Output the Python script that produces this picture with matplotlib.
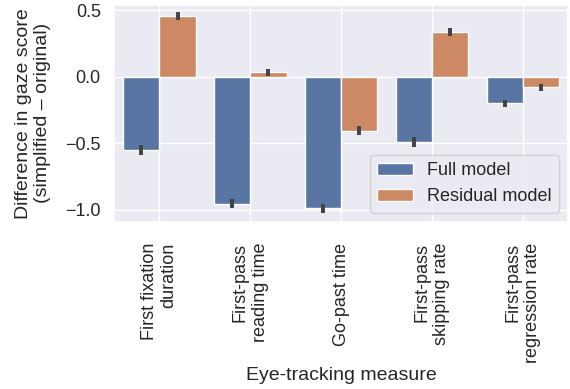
import matplotlib
matplotlib.use("Agg")
import matplotlib.pyplot as plt
import seaborn as sns
import numpy as np

measures = ["First fixation\nduration", "First-pass\nreading time", "Go-past time",
            "First-pass\nskipping rate", "First-pass\nregression rate"]
full_model = [-0.55, -0.955, -0.99, -0.49, -0.20]
full_err = [0.035, 0.035, 0.035, 0.035, 0.025]
residual_model = [0.46, 0.033, -0.405, 0.34, -0.078]
residual_err = [0.03, 0.025, 0.035, 0.03, 0.025]

sns.set_theme(style="darkgrid")
plt.rcParams["font.family"] = ["Liberation Sans", "DejaVu Sans"]

fig, ax = plt.subplots(figsize=(5.7, 3.89), dpi=100)
pal = [sns.desaturate(c, 0.75) for c in sns.color_palette("deep")]
x = np.arange(len(measures))
w = 0.4
err_kw = dict(ecolor="#424242", elinewidth=2.8, capsize=0)
ax.bar(x - w / 2, full_model, w, yerr=full_err, color=pal[0], edgecolor="white",
       label="Full model", error_kw=err_kw)
ax.bar(x + w / 2, residual_model, w, yerr=residual_err, color=pal[1], edgecolor="white",
       label="Residual model", error_kw=err_kw)

ax.set_xticks(x)
ax.set_xticklabels(measures, rotation=90, multialignment="right", fontsize=13)
ax.tick_params(axis="x", pad=9)
ax.tick_params(axis="y", labelsize=13)
ax.set_xlim(-0.5, 4.5)
ax.set_ylim(-1.09, 0.54)
ax.set_yticks([-1.0, -0.5, 0.0, 0.5])
ax.set_xlabel("Eye-tracking measure", fontsize=14, labelpad=3)
ax.set_ylabel("Difference in gaze score\n(simplified \u2013 original)", fontsize=14,
              labelpad=10)
ax.legend(loc="lower right", fontsize=13)

fig.subplots_adjust(left=0.2, right=0.997, top=0.987, bottom=0.43)
fig.savefig("out.png", dpi=100)
